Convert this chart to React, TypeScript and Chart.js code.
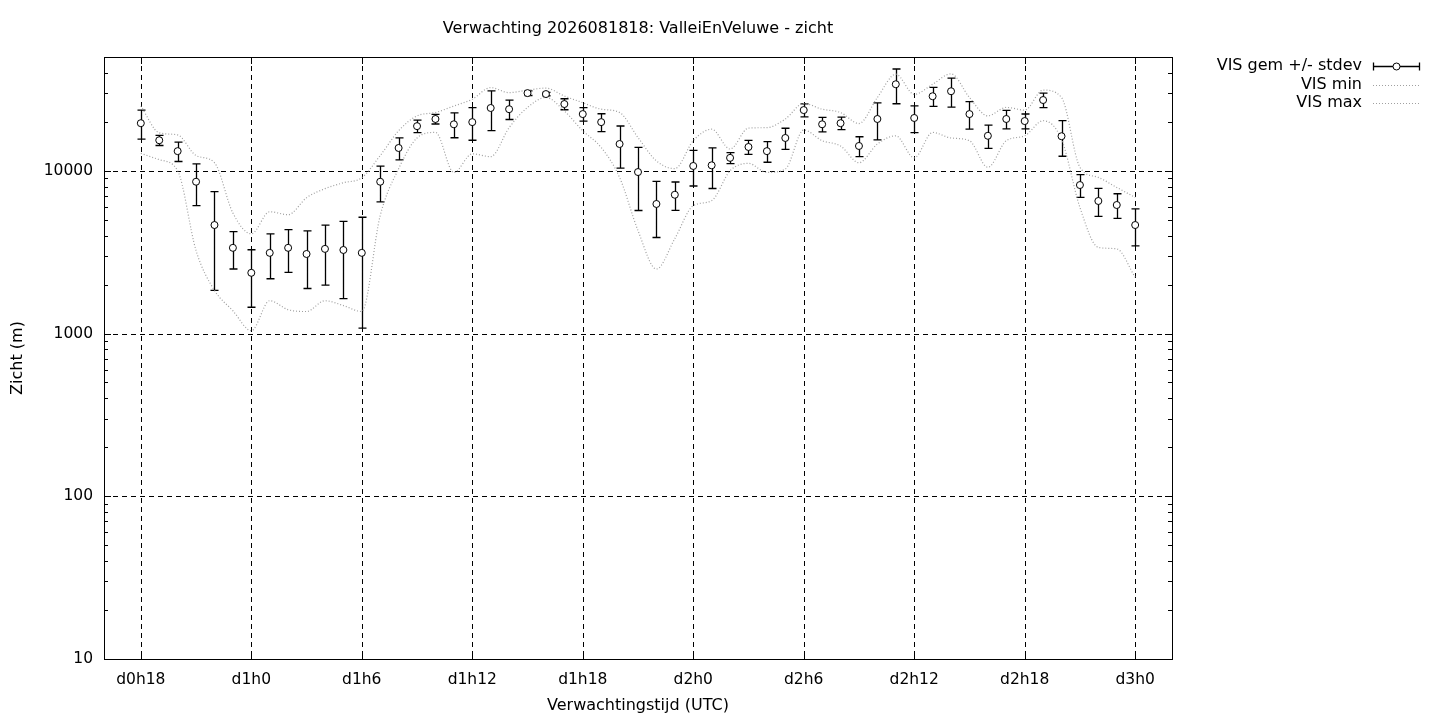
import { useEffect, useRef } from 'react'
import { Chart, registerables } from 'chart.js'

Chart.register(...registerables)

// forecast hours (d0h18 .. d3h0)
const hours = [
  18, 19, 20, 21, 22, 23, 24, 25, 26, 27, 28, 29, 30, 31, 32,
  33, 34, 35, 36, 37, 38, 39, 40, 41, 42, 43, 44, 45, 46, 47,
  48, 49, 50, 51, 52, 53, 54, 55, 56, 57, 58, 59, 60, 61, 62,
  63, 64, 65, 66, 67, 68, 69, 70, 71, 72,
]

const visMean = [
  19600, 15400, 13200, 8560, 4640, 3360, 2360, 3130, 3360, 3080, 3310, 3260, 3130, 8560, 13800,
  18800, 20800, 19300, 19900, 24300, 23900, 30000, 29600, 25700, 22300, 19900, 14600, 9820, 6250, 7120,
  10700, 10800, 12000, 14000, 13200, 15900, 23600, 19300, 19600, 14200, 20800, 34000, 21100, 28700, 30800,
  22300, 16400, 20800, 20200, 27200, 16300, 8170, 6520, 6160, 4640,
]

const visStdev = [
  3960, 1100, 1800, 2450, 2800, 870, 910, 960, 985, 1190, 1330, 1620, 2050, 2130, 2120,
  1650, 1420, 3350, 4500, 6650, 3250, 1000, 700, 2000, 2130, 2500, 4230, 4120, 2360, 1410,
  2640, 3020, 925, 1385, 1920, 2350, 2150, 1975, 1730, 1980, 5300, 8200, 3950, 3840, 6230,
  4300, 2680, 2700, 2130, 2780, 4020, 1300, 1280, 1065, 1190,
]

const visMin = [
  12800, 11700, 10000, 3230, 1840, 1380, 1040, 1590, 1400, 1365, 1590, 1485, 1365, 5300, 10300,
  15900, 17200, 9760, 12700, 12200, 18400, 24500, 28200, 23300, 17600, 13900, 9100, 4290, 2490, 3830,
  6100, 6550, 10000, 11100, 9760, 10240, 17800, 15300, 14200, 11200, 14600, 16400, 12000, 17200, 15900,
  15300, 10500, 15300, 16400, 20300, 15600, 5950, 3380, 3310, 2215,
]

const visMax = [
  25000, 17100, 16600, 12400, 11200, 5500, 4100, 5600, 5370, 6830, 7760, 8440, 9060, 12400, 17600,
  21750, 22800, 25000, 27500, 32400, 30200, 31300, 32200, 28800, 26200, 23900, 22800, 16000, 11500, 10300,
  15300, 18000, 13600, 18300, 18400, 20800, 25900, 23900, 22800, 19500, 28200, 39200, 29500, 34000, 39400,
  28200, 21750, 24500, 23600, 31300, 28200, 10500, 9100, 7900, 6860,
]

const tickHours = [18, 24, 30, 36, 42, 48, 54, 60, 66, 72]
const tickLabels = ['d0h18', 'd1h0', 'd1h6', 'd1h12', 'd1h18', 'd2h0', 'd2h6', 'd2h12', 'd2h18', 'd3h0']
const yTicks = [10, 100, 1000, 10000]
const legendLabels = ['VIS gem +/- stdev', 'VIS min', 'VIS max']

const FONT = "'DejaVu Sans', sans-serif"
const DOT_COLOR = '#a0a0a0'
const DOT_DASH = [1, 2]

const gnuplotFrame = {
  id: 'gnuplotFrame',
  beforeDatasetsDraw(chart: any) {
    const { ctx, chartArea: a, scales } = chart
    const x = scales.x
    const y = scales.y
    ctx.save()
    // dashed grid
    ctx.strokeStyle = '#000'
    ctx.lineWidth = 1
    ctx.setLineDash([5, 4])
    ctx.beginPath()
    tickHours.forEach((h) => {
      const px = Math.round(x.getPixelForValue(h)) + 0.5
      ctx.moveTo(px, a.top)
      ctx.lineTo(px, a.bottom)
    })
    yTicks.forEach((v) => {
      const py = Math.round(y.getPixelForValue(v)) + 0.5
      ctx.moveTo(a.left, py)
      ctx.lineTo(a.right, py)
    })
    ctx.stroke()
    ctx.setLineDash([])

    // error bars
    ctx.lineWidth = 1.3
    ctx.beginPath()
    hours.forEach((h, i) => {
      const px = Math.round(x.getPixelForValue(h)) + 0.5
      const top = y.getPixelForValue(visMean[i] + visStdev[i])
      const bot = y.getPixelForValue(visMean[i] - visStdev[i])
      ctx.moveTo(px, top)
      ctx.lineTo(px, bot)
      ctx.moveTo(px - 4, top)
      ctx.lineTo(px + 4, top)
      ctx.moveTo(px - 4, bot)
      ctx.lineTo(px + 4, bot)
    })
    ctx.stroke()
    ctx.restore()
  },
  afterDatasetsDraw(chart: any) {
    const { ctx, chartArea: a, scales } = chart
    const x = scales.x
    const y = scales.y
    ctx.save()
    ctx.strokeStyle = '#000'
    ctx.lineWidth = 1
    ctx.beginPath()
    // major ticks, mirrored
    tickHours.forEach((h) => {
      const px = Math.round(x.getPixelForValue(h)) + 0.5
      ctx.moveTo(px, a.bottom)
      ctx.lineTo(px, a.bottom - 7)
      ctx.moveTo(px, a.top)
      ctx.lineTo(px, a.top + 7)
    })
    yTicks.forEach((v) => {
      const py = Math.round(y.getPixelForValue(v)) + 0.5
      ctx.moveTo(a.left, py)
      ctx.lineTo(a.left + 7, py)
      ctx.moveTo(a.right, py)
      ctx.lineTo(a.right - 7, py)
    })
    // minor log ticks
    yTicks.forEach((v) => {
      for (let k = 2; k <= 9; k++) {
        const val = v * k
        if (val > y.max) break
        const py = Math.round(y.getPixelForValue(val)) + 0.5
        ctx.moveTo(a.left, py)
        ctx.lineTo(a.left + 4, py)
        ctx.moveTo(a.right, py)
        ctx.lineTo(a.right - 4, py)
      }
    })
    ctx.stroke()
    // border
    ctx.strokeRect(a.left + 0.5, a.top + 0.5, a.right - a.left, a.bottom - a.top)

    // key
    const textRight = a.right + 190
    const sx0 = a.right + 201
    const sx1 = a.right + 248
    const rows = [66, 85, 103]
    ctx.fillStyle = '#000'
    ctx.font = `16px ${FONT}`
    ctx.textAlign = 'right'
    ctx.textBaseline = 'middle'
    legendLabels.forEach((t, i) => ctx.fillText(t, textRight, rows[i]))

    const ry = rows[0] + 0.5
    ctx.lineWidth = 1.3
    ctx.beginPath()
    ctx.moveTo(sx0, ry)
    ctx.lineTo(sx1, ry)
    ctx.moveTo(sx0 + 0.5, ry - 4)
    ctx.lineTo(sx0 + 0.5, ry + 4)
    ctx.moveTo(sx1 - 0.5, ry - 4)
    ctx.lineTo(sx1 - 0.5, ry + 4)
    ctx.stroke()
    ctx.lineWidth = 1
    ctx.beginPath()
    ctx.arc((sx0 + sx1) / 2, ry, 3.5, 0, Math.PI * 2)
    ctx.fillStyle = '#fff'
    ctx.fill()
    ctx.stroke()

    ctx.strokeStyle = DOT_COLOR
    ctx.lineWidth = 1.2
    ctx.setLineDash(DOT_DASH)
    ctx.beginPath()
    ctx.moveTo(sx0, rows[1] + 0.5)
    ctx.lineTo(sx1, rows[1] + 0.5)
    ctx.moveTo(sx0, rows[2] + 0.5)
    ctx.lineTo(sx1, rows[2] + 0.5)
    ctx.stroke()
    ctx.restore()
  },
}

export default function App() {
  const chartRef = useRef<HTMLCanvasElement>(null)
  const chartInstance = useRef<Chart | null>(null)

  useEffect(() => {
    document.body.style.margin = '0'
    if (!chartRef.current) return
    const ctx = chartRef.current.getContext('2d')
    if (!ctx) return
    if (chartInstance.current) chartInstance.current.destroy()

    const font = { family: FONT, size: 16 }
    const tickFont = { family: FONT, size: 15.5 }

    chartInstance.current = new Chart(ctx, {
      type: 'line',
      data: {
        datasets: [
          {
            label: legendLabels[0],
            data: hours.map((h, i) => ({ x: h, y: visMean[i] })),
            showLine: false,
            pointRadius: 3.5,
            pointBackgroundColor: '#fff',
            pointBorderColor: '#000',
            pointBorderWidth: 1,
            order: 0,
          },
          {
            label: legendLabels[1],
            data: hours.map((h, i) => ({ x: h, y: visMin[i] })),
            borderColor: DOT_COLOR,
            borderWidth: 1.2,
            borderDash: DOT_DASH,
            pointRadius: 0,
            cubicInterpolationMode: 'monotone',
            order: 1,
          },
          {
            label: legendLabels[2],
            data: hours.map((h, i) => ({ x: h, y: visMax[i] })),
            borderColor: DOT_COLOR,
            borderWidth: 1.2,
            borderDash: DOT_DASH,
            pointRadius: 0,
            cubicInterpolationMode: 'monotone',
            order: 1,
          },
        ],
      },
      options: {
        responsive: false,
        animation: false,
        layout: { padding: { left: 0, right: 268, top: 0, bottom: 0 } },
        plugins: {
          legend: { display: false },
          tooltip: { enabled: false },
          title: {
            display: true,
            text: 'Verwachting 2026081818: ValleiEnVeluwe - zicht',
            fullSize: false,
            color: '#000',
            font: { ...font, weight: 'normal' },
            padding: { top: 19.4, bottom: 18.4 },
          },
        },
        scales: {
          x: {
            type: 'linear',
            min: 16,
            max: 74,
            afterBuildTicks: (scale: any) => {
              scale.ticks = tickHours.map((v) => ({ value: v }))
            },
            afterFit: (scale: any) => {
              scale.height = 61
            },
            ticks: {
              autoSkip: false,
              maxRotation: 0,
              color: '#000',
              font: tickFont,
              padding: 12,
              callback: (v: any) => tickLabels[tickHours.indexOf(Number(v))],
            },
            grid: { display: false, drawTicks: false },
            border: { display: false },
            title: {
              display: true,
              text: 'Verwachtingstijd (UTC)',
              color: '#000',
              font,
              padding: { top: 0, bottom: 4.4 },
            },
          },
          y: {
            type: 'logarithmic',
            min: 10,
            max: 50000,
            afterBuildTicks: (scale: any) => {
              scale.ticks = yTicks.map((v) => ({ value: v }))
            },
            afterFit: (scale: any) => {
              scale.width = 104
            },
            ticks: {
              autoSkip: false,
              color: '#000',
              font: tickFont,
              padding: 11,
              callback: (v: any) => String(v),
            },
            grid: { display: false, drawTicks: false },
            border: { display: false },
            title: {
              display: true,
              text: 'Zicht (m)',
              color: '#000',
              font,
              padding: { top: 8.4, bottom: 0 },
            },
          },
        },
      },
      plugins: [gnuplotFrame],
    })

    return () => {
      if (chartInstance.current) {
        chartInstance.current.destroy()
        chartInstance.current = null
      }
    }
  }, [])

  return (
    <div style={{ width: 1440, height: 720, background: '#fff' }}>
      <canvas ref={chartRef} width={1440} height={720}></canvas>
    </div>
  )
}
